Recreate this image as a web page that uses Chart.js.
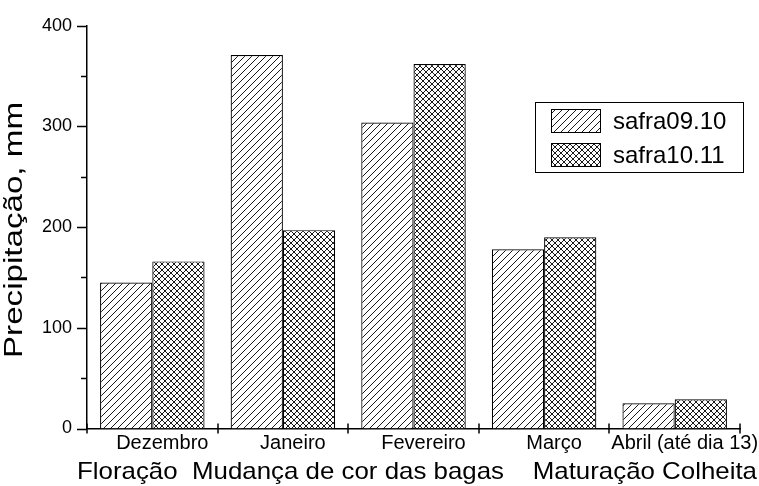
<!DOCTYPE html>
<html>
<head>
<meta charset="utf-8">
<script src="https://cdn.jsdelivr.net/npm/chart.js@4.4.0/dist/chart.umd.min.js"></script>
<style>
  body { margin: 0; background: #fff; }
  #wrap { width: 759px; height: 486px; }
</style>
</head>
<body>
<div id="wrap"><canvas id="chuva" width="759" height="486"></canvas></div>
<script>
// precipitação por mês, duas safras
const meses = ["Dezembro", "Janeiro", "Fevereiro", "Março", "Abril (até dia 13)"];
const safra0910 = [145, 371, 304, 178, 25];
const safra1011 = [166, 197, 362, 190, 29];
const yTicks = [0, 100, 200, 300, 400];
const yTitle = "Precipitação, mm";
const fases = "Floração  Mudança de cor das bagas    Maturação Colheita";

const FONT = "'Liberation Sans', Arial, sans-serif";

// hatch fill, "/" lines, cross adds "\" lines
function hatch(cross, s) {
  const c = document.createElement("canvas");
  c.width = s; c.height = s;
  const g = c.getContext("2d");
  g.fillStyle = "#fff";
  g.fillRect(0, 0, s, s);
  g.strokeStyle = "#000";
  g.lineWidth = 0.9;
  g.beginPath();
  g.moveTo(0, s); g.lineTo(s, 0);
  g.moveTo(-1, 1); g.lineTo(1, -1);
  g.moveTo(s - 1, s + 1); g.lineTo(s + 1, s - 1);
  if (cross) {
    g.moveTo(0, 0); g.lineTo(s, s);
    g.moveTo(-1, s - 1); g.lineTo(1, s + 1);
    g.moveTo(s - 1, -1); g.lineTo(s + 1, 1);
  }
  g.stroke();
  return g.createPattern(c, "repeat");
}

// axis ticks, y outward (major/minor), x crossing the line
const tickMarks = {
  id: "tickMarks",
  afterDraw(chart) {
    const ctx = chart.ctx;
    const x = chart.scales.x, y = chart.scales.y;
    ctx.save();
    ctx.strokeStyle = "#000";
    ctx.lineWidth = 1.5;
    ctx.beginPath();
    for (let v = 0; v <= 400; v += 50) {
      const py = Math.round(y.getPixelForValue(v)) + 0.5;
      const len = v % 100 === 0 ? 10 : 6;
      ctx.moveTo(y.right - len, py);
      ctx.lineTo(y.right, py);
    }
    for (let i = 0; i <= meses.length; i++) {
      const px = Math.round(x.getPixelForValue(i - 0.5));
      ctx.moveTo(px, x.top - 5);
      ctx.lineTo(px, x.top + 5);
    }
    ctx.stroke();
    ctx.restore();
  }
};

// titles and legend box
const extras = {
  id: "extras",
  afterDraw(chart) {
    const ctx = chart.ctx;
    ctx.save();
    ctx.fillStyle = "#000";

    // bottom line with the phases
    ctx.font = "24px " + FONT;
    ctx.textBaseline = "alphabetic";
    ctx.textAlign = "left";
    let w = ctx.measureText(fases).width;
    ctx.save();
    ctx.translate(77, 479);
    ctx.scale(680 / w, 1);
    ctx.fillText(fases, 0, 0);
    ctx.restore();

    // y title
    ctx.font = "26px " + FONT;
    w = ctx.measureText(yTitle).width;
    ctx.save();
    ctx.translate(22, 358);
    ctx.rotate(-Math.PI / 2);
    ctx.scale(256 / w, 1);
    ctx.fillText(yTitle, 0, 0);
    ctx.restore();

    // legend
    ctx.strokeStyle = "#000";
    ctx.lineWidth = 1;
    ctx.strokeRect(535.5, 102.5, 208, 70);
    const rows = [121, 155];
    chart.data.datasets.forEach((ds, i) => {
      ctx.fillStyle = ds.backgroundColor;
      ctx.fillRect(551, rows[i] - 12, 50, 24);
      ctx.strokeRect(551.5, rows[i] - 11.5, 49, 23);
      ctx.fillStyle = "#000";
      ctx.font = "24px " + FONT;
      ctx.textBaseline = "middle";
      ctx.fillText(ds.label, 613, rows[i] + 1);
    });
    ctx.restore();
  }
};

new Chart("chuva", {
  type: "bar",
  data: {
    labels: meses,
    datasets: [
      { label: "safra09.10", data: safra0910, backgroundColor: hatch(false, 7), borderColor: "#000", borderWidth: 1.2 },
      { label: "safra10.11", data: safra1011, backgroundColor: hatch(true, 6), borderColor: "#000", borderWidth: 1.2 }
    ]
  },
  options: {
    responsive: false,
    animation: false,
    layout: { padding: { top: 23, right: 19, left: 0, bottom: 0 } },
    datasets: { bar: { categoryPercentage: 0.8, barPercentage: 1.0 } },
    plugins: { legend: { display: false }, tooltip: { enabled: false } },
    scales: {
      x: {
        offset: true,
        grid: { display: false, drawTicks: false, offset: true },
        border: { color: "#000", width: 1.5 },
        ticks: { color: "#000", font: { family: FONT, size: 20 }, padding: 3, labelOffset: 10, maxRotation: 0, autoSkip: false },
        afterFit: s => { s.height = 57.5; }
      },
      y: {
        min: 0,
        max: 400,
        grid: { display: false, drawTicks: false },
        border: { color: "#000", width: 1.5 },
        afterBuildTicks: s => { s.ticks = yTicks.map(v => ({ value: v })); },
        ticks: { color: "#000", font: { family: FONT, size: 18 }, padding: 15 },
        afterFit: s => { s.width = 87; }
      }
    }
  },
  plugins: [tickMarks, extras]
});
</script>
</body>
</html>
